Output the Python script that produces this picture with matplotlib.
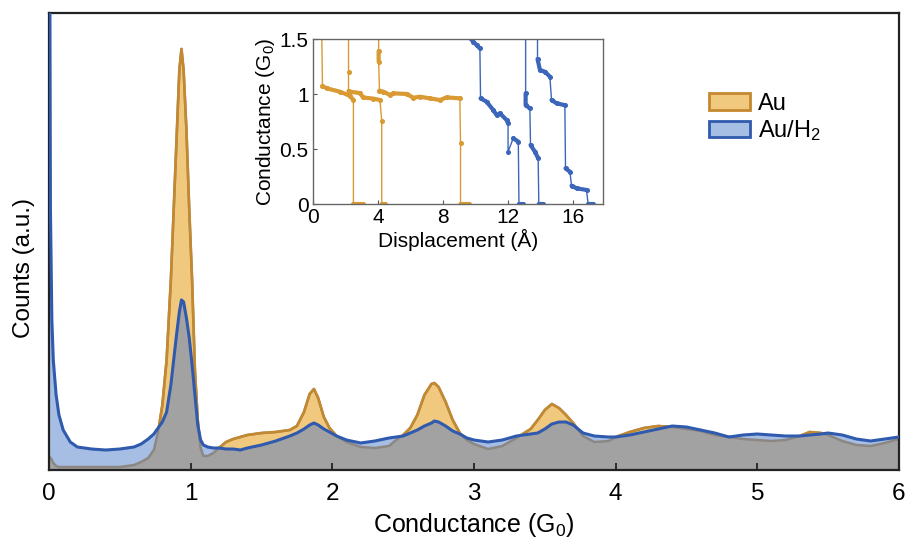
import numpy as np
import matplotlib
matplotlib.use("Agg")
import matplotlib.pyplot as plt
from matplotlib.patches import Patch, Polygon

plt.rcParams['font.family'] = ['Liberation Sans', 'DejaVu Sans']
plt.rcParams['mathtext.fontset'] = 'custom'
plt.rcParams['mathtext.rm'] = 'Liberation Sans'
plt.rcParams['mathtext.it'] = 'Liberation Sans:italic'

# conductance histogram (G0) for bare Au and Au in H2
cond = [0, 0.01, 0.02, 0.03, 0.05, 0.07, 0.1, 0.15, 0.2, 0.3, 0.4, 0.5, 0.6, 0.65, 0.7,
        0.74, 0.77, 0.8, 0.83, 0.86, 0.88, 0.9, 0.92, 0.935, 0.95, 0.97, 0.99, 1.01, 1.03,
        1.05, 1.07, 1.09, 1.12, 1.16, 1.2, 1.25, 1.3, 1.35, 1.4, 1.5, 1.6, 1.7, 1.75, 1.8,
        1.84, 1.87, 1.9, 1.94, 1.98, 2.03, 2.1, 2.2, 2.3, 2.4, 2.45, 2.5, 2.55, 2.6, 2.65,
        2.7, 2.72, 2.75, 2.8, 2.85, 2.9, 2.95, 3.0, 3.1, 3.2, 3.3, 3.4, 3.45, 3.5, 3.55,
        3.6, 3.65, 3.7, 3.77, 3.85, 3.95, 4.0, 4.1, 4.2, 4.3, 4.4, 4.5, 4.6, 4.7, 4.8, 4.9,
        5.0, 5.1, 5.2, 5.3, 5.37, 5.45, 5.5, 5.6, 5.7, 5.8, 5.9, 6.0]

counts_au = [14, 12, 10, 7, 4, 3, 3, 3, 3, 3, 3, 3, 5, 8, 12,
             20, 38, 65, 110, 190, 260, 330, 400, 421, 400, 340, 260, 190, 100,
             50, 22, 14, 14, 17, 22, 28, 31, 33, 35, 37, 38, 40, 44, 58,
             76, 81, 72, 53, 42, 34, 28, 23, 22, 24, 30, 35, 42, 55, 75,
             86, 87, 83, 68, 50, 37, 30, 26, 21, 24, 32, 41, 50, 60, 66,
             62, 55, 47, 34, 28, 29, 33, 38, 42, 44, 43, 41, 39, 35, 33, 31,
             30, 29, 30, 34, 38, 37, 35, 29, 25, 24, 27, 31]

counts_h2 = [800, 260, 150, 110, 75, 55, 40, 28, 23, 21, 20, 21, 23, 26, 31,
             36, 42, 48, 58, 85, 110, 135, 158, 170, 168, 152, 132, 105, 75,
             45, 30, 25, 23, 22, 22, 21, 21, 20, 22, 25, 29, 34, 37, 41,
             45, 47, 45, 41, 38, 34, 30, 27, 29, 32, 33, 34, 37, 40, 44,
             47, 49, 48, 44, 39, 36, 32, 30, 28, 30, 34, 36, 37, 41, 46,
             48, 48, 45, 37, 34, 33, 33, 35, 38, 41, 44, 43, 40, 37, 33, 35,
             36, 35, 34, 34, 35, 36, 37, 35, 31, 29, 31, 33]

# example conductance traces for the inset (displacement in Angstrom, G in G0)
au_traces = [
    ([0.55, 0.6, 0.86, 1.68, 2.29, 2.5, 2.5, 3.1],
     [1.6, 1.075, 1.053, 1.023, 0.984, 0.947, 0.0, 0.0]),
    ([2.2, 2.2, 2.2, 2.29, 2.9, 3.1, 3.72, 4.13, 4.24, 4.24, 4.44],
     [1.6, 1.205, 1.03, 1.023, 1.01, 0.97, 0.96, 0.947, 0.756, 0.0, 0.0]),
    ([4.05, 4.05, 4.05, 4.1, 4.34, 4.75, 4.95, 5.77, 6.18, 6.59, 7.2, 7.82, 8.23, 9.04,
      9.08, 9.08, 9.6],
     [1.6, 1.393, 1.296, 1.032, 1.023, 0.993, 1.008, 1.002, 0.968, 0.977, 0.962, 0.947,
      0.971, 0.962, 0.56, 0.0, 0.0]),
]
h2_traces = [
    ([9.45, 9.86, 10.07, 10.27, 10.31, 10.68, 11.09, 11.3, 11.5, 11.91, 12.0, 12.0,
      12.32, 12.63, 12.67, 12.93],
     [1.55, 1.478, 1.448, 1.418, 0.962, 0.932, 0.856, 0.81, 0.826, 0.765, 0.735, 0.477,
      0.598, 0.568, 0.0, 0.0]),
    ([13.08, 13.08, 13.08, 13.34, 13.38, 13.65, 13.85, 13.89, 14.16],
     [1.6, 1.008, 0.9, 0.871, 0.537, 0.477, 0.416, 0.0, 0.0]),
    ([13.81, 13.81, 13.96, 14.26, 14.57, 14.67, 14.98, 15.49, 15.53, 15.8, 15.9, 16.21,
      16.82, 16.92, 17.23],
     [1.6, 1.32, 1.22, 1.205, 1.16, 0.947, 0.917, 0.9, 0.325, 0.294, 0.167, 0.143,
      0.128, 0.0, 0.0]),
]

au_line = '#C4892F'
au_fill = '#F0C97E'
h2_line = '#2F5AAE'
h2_fill = '#A6BDE4'
overlap_fill = '#A2A2A3'
overlap_line = '#8C8782'

g = np.array(cond)
au = np.array(counts_au, dtype=float)
h2 = np.array(counts_h2, dtype=float)

fig = plt.figure(figsize=(9.08, 5.39), dpi=100)
ax = fig.add_axes([0.054, 0.128, 0.936, 0.848])

ax.fill_between(g, 0, au, color=au_fill, lw=0, zorder=1)
ax.fill_between(g, 0, h2, color=h2_fill, lw=0, zorder=1.1)
ax.fill_between(g, 0, np.minimum(au, h2), color=overlap_fill, lw=0, zorder=1.2)

# Au outline: grey where it sits under the H2 curve, orange above it
ax.plot(g, au, color=overlap_line, lw=1.8, zorder=2)
above_h2 = Polygon(np.vstack([np.column_stack([g, h2]), [[6.5, 2000], [-0.5, 2000]]]),
                   closed=True, transform=ax.transData)
orange, = ax.plot(g, au, color=au_line, lw=1.9, zorder=2.1)
orange.set_clip_path(above_h2)
ax.plot(g, h2, color=h2_line, lw=2.2, zorder=3)

ax.set_xlim(0, 6)
ax.set_ylim(0, 457)
ax.set_yticks([])
ax.set_xticks(range(7))
ax.tick_params(axis='x', direction='in', length=5, width=1.3, labelsize=17.5, pad=9,
               color='#222222')
for sp in ax.spines.values():
    sp.set_linewidth(1.6)
    sp.set_color('#222222')
ax.set_xlabel('Conductance (G$_\\mathregular{0}$)', fontsize=18, labelpad=5)
ax.set_ylabel('Counts (a.u.)', fontsize=17.5)
ax.yaxis.set_label_coords(-0.0165, 0.442)

handles = [Patch(facecolor=au_fill, edgecolor=au_line, lw=2),
           Patch(facecolor=h2_fill, edgecolor=h2_line, lw=2)]
ax.legend(handles, ['Au', 'Au/H$_\\mathregular{2}$'], loc='upper left',
          bbox_to_anchor=(0.751, 0.872), frameon=False, fontsize=17,
          handlelength=1.75, handleheight=0.7, handletextpad=0.35, labelspacing=0.15)

# inset with individual breaking traces
ins = fig.add_axes([0.3444, 0.6215, 0.320, 0.3056])
for traces, col in [(au_traces, '#D99A33'), (h2_traces, '#3B66BA')]:
    for x, y in traces:
        x = np.array(x)
        y = np.array(y)
        ins.plot(x, y, color=col, lw=1.0, marker='o', ms=2.6, mec=col, mfc=col, zorder=2)
        # plateaus drawn heavier, jumps left thin
        px, py = [], []
        for i in range(len(x)):
            if i > 0 and abs(y[i] - y[i - 1]) > 0.12:
                px.append(np.nan)
                py.append(np.nan)
            px.append(x[i])
            py.append(y[i])
        ins.plot(px, py, color=col, lw=3.0, solid_capstyle='round', zorder=2)

ins.set_xlim(0, 17.85)
ins.set_ylim(0, 1.5)
ins.set_xticks([0, 4, 8, 12, 16])
ins.set_yticks([0, 0.5, 1, 1.5])
ins.set_yticklabels(['0', '0.5', '1', '1.5'])
ins.tick_params(direction='in', length=3, width=0.8, labelsize=15, pad=3, color='#555555')
for sp in ins.spines.values():
    sp.set_linewidth(1.0)
    sp.set_color('#666666')
ins.set_xlabel('Displacement (Å)', fontsize=15, labelpad=1)
ins.set_ylabel('Conductance (G$_\\mathregular{0}$)', fontsize=15, labelpad=2)

fig.savefig('out.png', dpi=100)
